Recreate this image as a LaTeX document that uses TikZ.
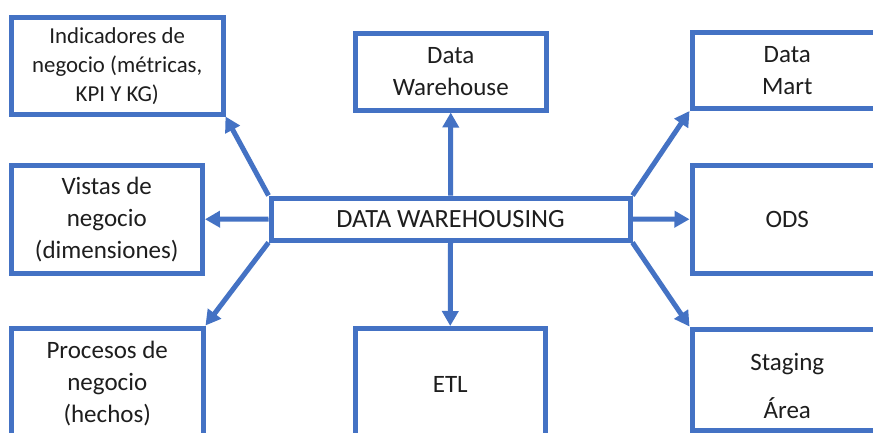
\documentclass[tikz,border=0pt]{standalone}
\usepackage{fontspec}
\setmainfont{Carlito}
\usetikzlibrary{arrows.meta}
\definecolor{obl}{HTML}{4472C4}
\definecolor{txt}{HTML}{1E1E1E}
\begin{document}
\begin{tikzpicture}[x=1pt,y=-1pt,
  boxn/.style={draw=obl, line width=5pt, rectangle, fill=white, text=txt, align=center, inner sep=0pt},
  lbl/.style={text=txt, align=center, inner sep=0pt},
  big/.style={font=\fontsize{25}{32}\selectfont},
  small/.style={font=\fontsize{22.8}{29}\selectfont},
  conn/.style={draw=obl, line width=5pt, -{Triangle[length=15pt,width=16pt]}}
]
\useasboundingbox (0,0) rectangle (873,432);
\clip (0,0) rectangle (873,432);
\fill[white] (0,0) rectangle (873,432);

\node[boxn, small, minimum width=211.5pt, minimum height=96.5pt] (ind) at (117.25,65.75) {Indicadores de\\negocio (métricas,\\KPI Y KG)};
\node[boxn, big, minimum width=190.5pt, minimum height=77pt] (dw) at (450.75,71.5) {Data\\Warehouse};
\node[boxn, big, minimum width=190.5pt, minimum height=76pt] (dm) at (787.25,70.5) {Data\\Mart};
\node[boxn, big, minimum width=191.5pt, minimum height=107.5pt] (vis) at (106.75,219.25) {Vistas de\\negocio\\(dimensiones)};
\node[boxn, font=\fontsize{26.3}{32}\selectfont, minimum width=359pt, minimum height=42pt] (cen) at (450.5,219) {DATA WAREHOUSING};
\node[boxn, big, minimum width=190.5pt, minimum height=107.5pt] (ods) at (787.25,219.25) {ODS};
\node[boxn, minimum width=190.5pt, minimum height=101pt] (stg) at (787.25,379.5) {};
\node[lbl, font=\fontsize{25}{48}\selectfont] (stgt) at (787.25,386) {Staging\\Área};
\node[boxn, big, minimum width=191.5pt, minimum height=112pt] (pro) at (107.25,384) {Procesos de\\negocio\\(hechos)};
\node[boxn, big, minimum width=189.5pt, minimum height=111.5pt] (etl) at (450.25,384.25) {ETL};

\draw[conn] (cen.north west) -- (ind.south east);
\draw[conn] (cen.west) -- (vis.east);
\draw[conn] (cen.south west) -- (pro.north east);
\draw[conn] (cen.north) -- (dw.south);
\draw[conn] (cen.south) -- (etl.north);
\draw[conn] (cen.north east) -- (dm.south west);
\draw[conn] (cen.east) -- (ods.west);
\draw[conn] (cen.south east) -- (stg.north west);
\end{tikzpicture}
\end{document}
